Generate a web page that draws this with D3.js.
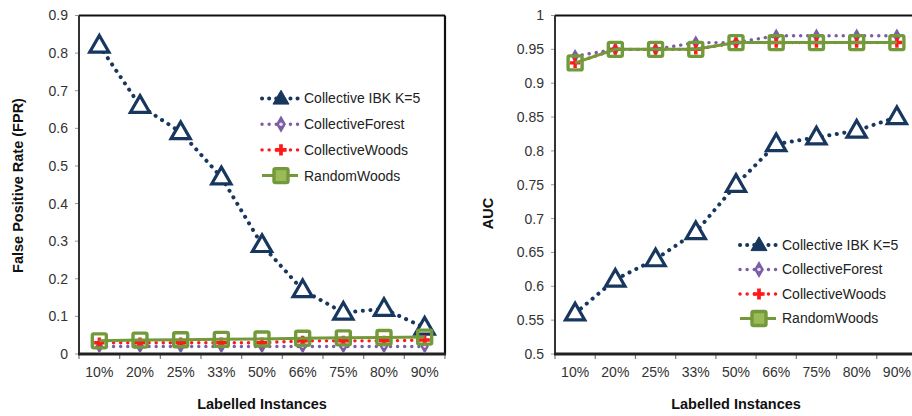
<!DOCTYPE html>
<meta charset="utf-8">
<style>
body { margin: 0; background: #fff; font-family: "Liberation Sans", Arial, sans-serif; }
svg text { fill: #333; }
.tick text { font-size: 14px; }
.title { font-size: 14.5px; font-weight: bold; fill: #111; }
.legend text { font-size: 14px; fill: #222; }
</style>
<body>
<script src="https://cdn.jsdelivr.net/npm/d3@7"></script>
<script>
var categories = ["10%", "20%", "25%", "33%", "50%", "66%", "75%", "80%", "90%"];
var seriesNames = ["Collective IBK K=5", "CollectiveForest", "CollectiveWoods", "RandomWoods"];

// false positive rate
var fprIBK    = [0.82, 0.66, 0.59, 0.47, 0.29, 0.17, 0.11, 0.12, 0.07];
var fprForest = [0.02, 0.02, 0.02, 0.02, 0.02, 0.02, 0.02, 0.02, 0.02];
var fprWoods  = [0.03, 0.03, 0.03, 0.03, 0.03, 0.035, 0.035, 0.035, 0.037];
var fprRandom = [0.035, 0.037, 0.038, 0.039, 0.04, 0.042, 0.043, 0.044, 0.045];

// AUC
var aucIBK    = [0.56, 0.61, 0.64, 0.68, 0.75, 0.81, 0.82, 0.83, 0.85];
var aucForest = [0.94, 0.95, 0.95, 0.96, 0.96, 0.97, 0.97, 0.97, 0.97];
var aucWoods  = [0.93, 0.95, 0.95, 0.95, 0.96, 0.96, 0.96, 0.96, 0.96];
var aucRandom = [0.93, 0.95, 0.95, 0.95, 0.96, 0.96, 0.96, 0.96, 0.96];

var fprTicks = ["0", "0.1", "0.2", "0.3", "0.4", "0.5", "0.6", "0.7", "0.8", "0.9"];
var aucTicks = ["0.5", "0.55", "0.6", "0.65", "0.7", "0.75", "0.8", "0.85", "0.9", "0.95", "1"];

var styles = [
  {color: "#17375e", dash: "0.1 7.5", width: 4, marker: "triangle"},
  {color: "#7b5fa6", dash: "0.1 7", width: 3.4, marker: "diamond"},
  {color: "#ff1a1a", dash: "0.1 7", width: 3.4, marker: "plus"},
  {color: "#729a3a", dash: null, width: 3, marker: "square"}
];

var svg = d3.select("body").append("svg").attr("width", 912).attr("height", 416);

function drawMarker(g, type, color, x, y, legend) {
  if (type == "triangle") {
    g.append("path")
      .attr("d", d3.symbol(d3.symbolTriangle, legend ? 110 : 160)())
      .attr("transform", "translate(" + x + "," + (y + 1) + ")")
      .attr("fill", legend ? color : "#fff")
      .attr("stroke", color).attr("stroke-width", legend ? 1 : 3.2);
  } else if (type == "diamond") {
    g.append("path")
      .attr("d", d3.symbol(d3.symbolDiamond, legend ? 85 : 60)())
      .attr("transform", "translate(" + x + "," + y + ")")
      .attr("fill", color);
    g.append("circle").attr("cx", x).attr("cy", y).attr("r", legend ? 1.8 : 1.4)
      .attr("fill", "#e8e0f2");
  } else if (type == "plus") {
    g.append("path")
      .attr("d", d3.symbol(d3.symbolCross, legend ? 70 : 60)())
      .attr("transform", "translate(" + x + "," + y + ")")
      .attr("fill", color);
  } else {
    g.append("rect")
      .attr("x", x - 7).attr("y", y - 7).attr("width", 14).attr("height", 14)
      .attr("rx", 1.5)
      .attr("fill", legend ? "#9bbb59" : "none").attr("stroke", color).attr("stroke-width", 3.4);
  }
}

function drawChart(cfg) {
  var g = svg.append("g").attr("transform", "translate(" + cfg.left + "," + cfg.top + ")");
  var w = cfg.width, h = cfg.height;

  var x = d3.scaleBand().domain(categories).range([0, w]);
  var y = d3.scaleLinear().domain(cfg.domain).range([h, 0]);

  // y axis labels
  var yAxis = d3.axisLeft(y).tickValues(cfg.ticks.map(Number))
    .tickFormat(function(d, i) { return cfg.ticks[i]; }).tickSize(0).tickPadding(11);
  var ya = g.append("g").call(yAxis);
  ya.select(".domain").remove();

  // x axis labels
  var xAxis = d3.axisBottom(x).tickSize(0).tickPadding(13);
  var xa = g.append("g").attr("transform", "translate(0," + h + ")").call(xAxis);
  xa.select(".domain").remove();
  g.selectAll(".tick text").attr("fill", "#3a3a3a");

  // tick marks between categories
  var edges = categories.map(function(c) { return x(c); }).concat([w]);
  g.selectAll(".xt").data(edges).enter().append("line")
    .attr("x1", function(d) { return d; }).attr("x2", function(d) { return d; })
    .attr("y1", h).attr("y2", h + 5)
    .attr("stroke", "#777").attr("stroke-width", 1.2);
  g.selectAll(".yt").data(cfg.ticks.map(Number)).enter().append("line")
    .attr("x1", -4).attr("x2", 0)
    .attr("y1", function(d) { return y(d); }).attr("y2", function(d) { return y(d); })
    .attr("stroke", "#999").attr("stroke-width", 1);

  // frame
  g.append("line").attr("x1", 0).attr("x2", w).attr("y1", 0).attr("y2", 0)
    .attr("stroke", "#111").attr("stroke-width", 2.2);
  g.append("line").attr("x1", w).attr("x2", w).attr("y1", 0).attr("y2", h)
    .attr("stroke", "#111").attr("stroke-width", 2.2);
  g.append("line").attr("x1", 0).attr("x2", 0).attr("y1", 0).attr("y2", h)
    .attr("stroke", "#333").attr("stroke-width", 2);
  g.append("line").attr("x1", -1).attr("x2", w + 1).attr("y1", h).attr("y2", h)
    .attr("stroke", "#222").attr("stroke-width", 3);

  var line = d3.line()
    .x(function(d, i) { return x(categories[i]) + x.bandwidth() / 2; })
    .y(function(d) { return y(d); });

  cfg.series.forEach(function(vals, si) {
    var st = styles[si];
    g.append("path").datum(vals).attr("d", line)
      .attr("fill", "none").attr("stroke", st.color)
      .attr("stroke-width", st.width)
      .attr("stroke-linecap", st.dash ? "round" : "butt")
      .attr("stroke-dasharray", st.dash);
    vals.forEach(function(v, i) {
      drawMarker(g, st.marker, st.color, x(categories[i]) + x.bandwidth() / 2, y(v), false);
    });
  });

  // legend
  var lg = g.append("g").attr("class", "legend")
    .attr("transform", "translate(" + cfg.legendX + "," + cfg.legendY + ")");
  seriesNames.forEach(function(name, i) {
    var st = styles[i];
    var row = lg.append("g").attr("transform", "translate(0," + i * cfg.legendStep + ")");
    row.append("line").attr("x1", 2).attr("x2", 38).attr("y1", 0).attr("y2", 0)
      .attr("stroke", st.color).attr("stroke-width", st.width)
      .attr("stroke-linecap", st.dash ? "round" : "butt")
      .attr("stroke-dasharray", st.dash ? "0.1 7" : null);
    drawMarker(row, st.marker, st.color, 21, 0, true);
    row.append("text").attr("x", 44).attr("y", 0).attr("dy", "0.35em").text(name);
  });

  // titles
  g.append("text").attr("class", "title")
    .attr("x", w / 2).attr("y", h + 55).attr("text-anchor", "middle")
    .text("Labelled Instances");
  g.append("text").attr("class", "title")
    .attr("transform", "translate(" + cfg.yTitleX + "," + cfg.yTitleY + ") rotate(-90)")
    .attr("text-anchor", "middle").text(cfg.yTitle);
}

drawChart({
  left: 79, top: 15.5, width: 366, height: 338.5,
  domain: [0, 0.9], ticks: fprTicks,
  series: [fprIBK, fprForest, fprWoods, fprRandom],
  legendX: 181, legendY: 83, legendStep: 25.7,
  yTitle: "False Positive Rate (FPR)", yTitleX: -56, yTitleY: 170
});

drawChart({
  left: 555, top: 15.5, width: 362, height: 338.5,
  domain: [0.5, 1], ticks: aucTicks,
  series: [aucIBK, aucForest, aucWoods, aucRandom],
  legendX: 183, legendY: 229.5, legendStep: 24.5,
  yTitle: "AUC", yTitleX: -62, yTitleY: 198
});
</script>
</body>
